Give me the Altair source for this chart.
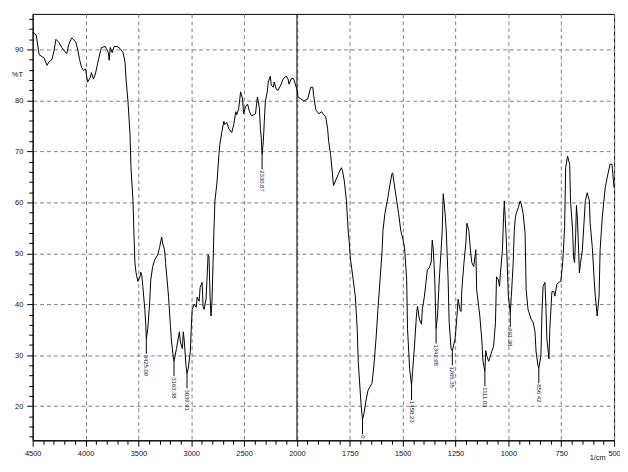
import altair as alt
import pandas as pd

# ---- spectrum, 4500-2000 1/cm (compressed half of the axis) ----
wn_left = [4500, 4467, 4439, 4411, 4393, 4364, 4346, 4318, 4299, 4280, 4252, 4224, 4187, 4178,
           4159, 4131, 4093, 4075, 4056, 4037, 4019, 4000, 3981, 3953, 3944, 3925, 3907, 3878,
           3850, 3813, 3804, 3785, 3776, 3766, 3748, 3729, 3701, 3673, 3645, 3626, 3617, 3598,
           3579, 3570, 3551, 3542, 3533, 3523, 3505, 3486, 3477, 3467, 3458, 3439, 3430, 3425,
           3411, 3393, 3383, 3365, 3346, 3318, 3299, 3290, 3280, 3271, 3252, 3243, 3215, 3196,
           3187, 3172, 3163, 3140, 3112, 3103, 3084, 3075, 3065, 3050, 3040, 3028, 3009, 3000,
           2991, 2972, 2953, 2944, 2925, 2916, 2897, 2888, 2879, 2860, 2850, 2841, 2832, 2822,
           2813, 2804, 2785, 2776, 2757, 2738, 2729, 2710, 2692, 2682, 2664, 2645, 2617, 2598,
           2579, 2570, 2551, 2533, 2514, 2505, 2486, 2467, 2449, 2430, 2411, 2392, 2383, 2374,
           2355, 2346, 2337, 2330, 2318, 2309, 2299, 2281, 2271, 2252, 2243, 2224, 2215, 2196,
           2178, 2150, 2131, 2103, 2084, 2075, 2056, 2037, 2028, 2000]
t_left = [93.3, 92.9, 89.0, 88.6, 88.4, 86.9, 87.6, 88.0, 89.7, 92.0, 91.4, 90.4, 89.4, 89.2,
          91.0, 92.3, 91.5, 90.1, 88.0, 86.5, 85.9, 86.2, 83.6, 84.6, 85.5, 84.2, 85.2, 88.0,
          90.4, 90.6, 90.2, 89.5, 87.9, 90.4, 89.4, 90.6, 90.6, 90.2, 89.4, 87.5, 84.2, 79.7,
          73.3, 66.8, 60.3, 54.0, 48.2, 46.3, 44.5, 45.3, 46.3, 45.5, 43.5, 39.0, 35.8, 33.2,
          35.2, 40.4, 44.8, 47.4, 48.7, 49.7, 51.2, 52.2, 53.2, 52.0, 50.7, 48.2, 41.6, 35.5,
          32.8, 30.0, 28.8, 31.3, 34.6, 32.6, 31.3, 34.6, 32.6, 28.0, 26.4, 27.5, 30.7, 35.2,
          39.0, 40.0, 39.4, 41.4, 40.6, 43.3, 44.3, 39.6, 39.0, 41.0, 45.4, 49.7, 49.3, 41.5,
          37.7, 40.6, 54.5, 60.3, 63.8, 69.4, 71.4, 73.9, 75.9, 75.3, 75.7, 74.5, 73.7, 75.3,
          77.8, 77.2, 78.4, 81.7, 80.3, 77.4, 78.8, 79.3, 77.8, 77.0, 77.2, 77.4, 79.1, 80.7,
          78.4, 74.5, 72.6, 69.4, 72.0, 75.9, 79.7, 81.7, 83.6, 84.8, 83.0, 82.6, 83.6, 82.2,
          82.0, 83.2, 84.2, 84.8, 84.2, 83.2, 84.2, 84.4, 84.0, 82.2]

# ---- spectrum, 2000-500 1/cm (expanded half) ----
wn_right = [1995, 1981, 1967, 1949, 1935, 1925, 1921, 1911, 1897, 1883, 1874, 1864, 1855, 1850,
            1841, 1832, 1827, 1818, 1804, 1790, 1785, 1776, 1766, 1757, 1752, 1748, 1734, 1724,
            1715, 1710, 1701, 1696, 1690, 1684, 1673, 1664, 1645, 1636, 1626, 1617, 1607, 1598,
            1593, 1584, 1570, 1561, 1551, 1547, 1542, 1528, 1519, 1509, 1500, 1491, 1481, 1477,
            1467, 1458, 1453, 1444, 1435, 1430, 1421, 1411, 1407, 1397, 1383, 1374, 1365, 1360,
            1355, 1348, 1342, 1335, 1327, 1318, 1313, 1308, 1299, 1294, 1285, 1280, 1271, 1265,
            1252, 1243, 1238, 1229, 1224, 1220, 1210, 1201, 1196, 1187, 1178, 1173, 1164, 1154,
            1150, 1135, 1126, 1120, 1111, 1107, 1103, 1093, 1084, 1079, 1070, 1061, 1056, 1047,
            1042, 1037, 1028, 1023, 1019, 1009, 1000, 991, 986, 977, 972, 967, 963, 953,
            944, 939, 930, 921, 916, 907, 897, 893, 883, 874, 869, 860, 856, 846,
            841, 836, 827, 822, 818, 808, 804, 794, 785, 780, 771, 762, 752, 743,
            734, 729, 720, 710, 706, 696, 692, 687, 682, 678, 673, 664, 659, 650,
            636, 627, 617, 613, 603, 594, 589, 580, 571, 566, 556, 542, 533, 519,
            510, 500]
t_right = [80.7, 80.3, 79.9, 80.3, 82.6, 82.6, 81.0, 78.2, 77.4, 77.8, 77.2, 76.8, 74.5, 72.0,
           69.4, 65.6, 63.3, 64.2, 65.6, 66.8, 66.3, 64.2, 60.3, 54.0, 52.0, 49.3, 44.8, 41.6,
           35.2, 28.8, 23.0, 20.0, 17.4, 18.3, 21.2, 23.1, 24.5, 28.0, 33.2, 39.0, 44.8, 50.0,
           54.5, 57.8, 60.9, 63.3, 65.6, 65.8, 64.2, 60.3, 57.8, 54.5, 53.0, 51.2, 44.8, 35.2,
           27.4, 24.1, 26.8, 31.9, 37.7, 39.6, 37.1, 36.1, 39.0, 41.6, 46.8, 47.2, 48.3, 52.6,
           50.7, 44.8, 35.2, 37.7, 44.8, 50.7, 54.5, 61.7, 57.8, 54.5, 44.8, 36.5, 31.3, 30.9,
           33.2, 37.7, 41.0, 39.0, 38.6, 42.9, 48.2, 52.0, 55.9, 54.5, 50.0, 48.2, 47.4, 50.7,
           42.9, 37.7, 33.2, 28.8, 26.8, 30.9, 30.0, 28.8, 30.0, 30.7, 31.7, 36.5, 45.4, 44.8,
           43.5, 46.3, 50.7, 57.0, 60.3, 52.0, 41.6, 38.4, 41.6, 48.2, 54.5, 57.0, 57.8, 59.0,
           60.3, 59.7, 57.8, 54.0, 42.9, 39.0, 37.7, 37.1, 36.5, 34.6, 30.7, 28.0, 27.4, 30.0,
           38.4, 43.5, 44.3, 39.0, 33.2, 29.3, 35.2, 42.5, 42.5, 41.6, 43.9, 44.3, 44.5, 48.2,
           55.1, 66.8, 69.1, 67.5, 60.3, 54.5, 49.3, 48.2, 53.2, 59.4, 56.5, 46.2, 48.0, 50.7,
           60.3, 61.9, 60.3, 55.9, 51.2, 44.8, 41.6, 37.7, 41.6, 50.7, 57.0, 62.9, 64.8, 67.5,
           67.5, 62.9]

# ---- peak picks ----
peak_wn = [3425, 3163, 3040, 2330, 1690, 1458, 1342, 1265, 1111, 991, 856]
peak_t = [33.2, 28.8, 26.4, 69.4, 17.4, 24.1, 35.2, 30.9, 26.8, 38.4, 27.4]
peak_labels = ["3425.09", "3163.38", "3039.91", "2330.87", "0", "1458.23", "1342.98",
               "1265.35", "1111.03", "991.38", "856.42"]

divider_wn = [2000]

spectrum = pd.DataFrame({"wn": wn_left + wn_right, "t": t_left + t_right})
peaks = pd.DataFrame({"wn": peak_wn, "t": peak_t, "label": peak_labels})
divider = pd.DataFrame({"wn": divider_wn})

U = "datum.wn >= 2000 ? (4500 - datum.wn) / 500 : 5 + (2000 - datum.wn) / 250"
MAJ_X = "abs(datum.value - round(datum.value)) < 0.001"
MAJ_Y = "abs(datum.value % 10) < 0.001"

FONT = "Liberation Sans"
x_scale = alt.Scale(domain=[0, 11], nice=False, zero=False)
y_scale = alt.Scale(domain=[13.3, 97], nice=False, zero=False)

x_axis = alt.Axis(
    values=[round(i * 0.2, 1) for i in range(56)],
    labelExpr=("abs(datum.value - round(datum.value)) < 0.001 ? "
               "(datum.value <= 5 ? format(4500 - round(datum.value) * 500, 'd') : "
               "format(2000 - (round(datum.value) - 5) * 250, 'd')) : ''"),
    tickSize={"condition": {"test": MAJ_X, "value": 6}, "value": 4},
    gridOpacity={"condition": {"test": MAJ_X, "value": 1}, "value": 0},
    grid=True, gridColor="#808080", gridDash=[4, 3], gridWidth=1,
    tickColor="black", domainColor="black", labelColor="#101010",
    labelFont=FONT, labelFontSize=7.5, labelPadding=3, labelOverlap=False, labelFlush=False,
    title="1/cm", titleFont=FONT, titleFontSize=7.5, titleFontWeight="normal",
    titleColor="#101010", titleAlign="right", titleX=580, titleY=17, titleBaseline="middle",
)
y_axis = alt.Axis(
    values=list(range(14, 97, 2)),
    labelExpr="datum.value % 10 == 0 ? datum.value : ''",
    tickSize={"condition": {"test": MAJ_Y, "value": 6}, "value": 4},
    gridOpacity={"condition": {"test": MAJ_Y, "value": 1}, "value": 0},
    grid=True, gridColor="#808080", gridDash=[4, 3], gridWidth=1,
    tickColor="black", domainColor="black", labelColor="#101010",
    labelFont=FONT, labelFontSize=7.5, labelPadding=4, labelOverlap=False, labelFlush=False,
    title="%T", titleFont=FONT, titleFontSize=7.5, titleFontWeight="normal",
    titleColor="#101010", titleAngle=0, titleAlign="center", titleBaseline="middle",
    titleX=-16, titleY=61,
)

X = alt.X("u:Q", scale=x_scale, axis=x_axis)

line = alt.Chart(spectrum).transform_calculate(u=U).mark_line(
    color="black", strokeWidth=1
).encode(
    x=X,
    y=alt.Y("t:Q", scale=y_scale, axis=y_axis),
    order="u:Q",
)

pk = alt.Chart(peaks).transform_calculate(u=U, t2="datum.t - 2.9", ty="datum.t - 3.1")
pk_rules = pk.mark_rule(color="black", strokeWidth=1).encode(
    x=X,
    y=alt.Y("t:Q", scale=y_scale, axis=y_axis),
    y2="t2:Q",
)
pk_text = pk.mark_text(angle=90, align="left", baseline="middle", fontSize=6,
                       font=FONT, color="#101030").encode(
    x=X,
    y=alt.Y("ty:Q", scale=y_scale, axis=y_axis),
    text="label:N",
)

div_rule = alt.Chart(divider).transform_calculate(u=U).mark_rule(
    color="black", strokeWidth=1
).encode(x=X)

chart = alt.layer(line, pk_rules, pk_text, div_rule).properties(
    width=589, height=432,
    padding={"left": 25, "top": 3, "right": 6, "bottom": 21},
    autosize=alt.AutoSizeParams(type="none"),
    background="white",
).configure_view(stroke="black", strokeWidth=1)

chart.save("out.html", embed_options={"renderer": "svg", "actions": False})
